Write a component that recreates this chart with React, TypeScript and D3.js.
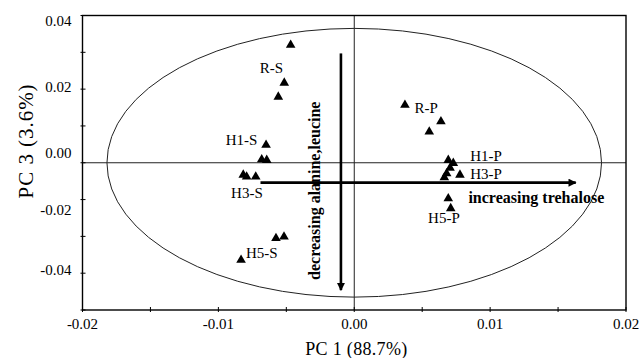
import React, { useEffect, useRef } from 'react';
import * as d3 from 'd3';

// scores (PC1, PC3)
const pc1S = [-0.00468, -0.00515, -0.00559, -0.00649, -0.00681, -0.00644, -0.00817, -0.00792, -0.00725, -0.00576, -0.00517, -0.00833];
const pc3S = [0.0320, 0.0217, 0.0179, 0.0048, 0.0009, 0.0007, -0.0033, -0.0038, -0.0038, -0.0205, -0.0201, -0.0264];
const pc1P = [0.00373, 0.00638, 0.00552, 0.00692, 0.00729, 0.00705, 0.00778, 0.00663, 0.0068, 0.00692, 0.0071];
const pc3P = [0.0157, 0.0112, 0.0084, 0.0007, -0.0001, -0.0014, -0.0033, -0.0040, -0.0029, -0.0097, -0.0124];

const groupNames = ['R-S', 'H1-S', 'H3-S', 'H5-S', 'R-P', 'H1-P', 'H3-P', 'H5-P'];
const groupPc1 = [-0.0061, -0.0083, -0.0079, -0.0068, 0.0053, 0.0097, 0.0097, 0.0066];
const groupPc3 = [0.0259, 0.0062, -0.0082, -0.0245, 0.0149, 0.0018, -0.0031, -0.0150];

const xTickValues = [-0.02, -0.015, -0.01, -0.005, 0, 0.005, 0.01, 0.015, 0.02];
const xTickLabels = ['-0.02', '-0.01', '0.00', '0.01', '0.02'];
const xTickLabelValues = [-0.02, -0.01, 0, 0.01, 0.02];
const yTickValues = [0.04, 0.03, 0.02, 0.01, 0, -0.01, -0.02, -0.03, -0.04];
const yTickLabels = ['0.04', '0.02', '0.00', '-0.02', '-0.04'];
// the printed labels sit off their ticks in the source figure
const yTickLabelValues = [0.0385, 0.0206, 0.0026, -0.0128, -0.0291];

const ellipseRadii = [0.0182, 0.0365]; // confidence ellipse, PC1 / PC3
const trehaloseArrow = [[-0.0069, -0.0054], [0.0163, -0.0054]];
const alanineArrow = [[-0.00098, 0.0297], [-0.00098, -0.0346]];

const width = 641;
const height = 358;
const margin = { top: 15.5, right: 15, bottom: 48, left: 82.5 };
const serif = '"Liberation Serif", "Times New Roman", serif';

export default function App() {
  const svgRef = useRef<SVGSVGElement>(null);

  useEffect(() => {
    if (!svgRef.current) return;
    const svg = d3.select(svgRef.current);
    svg.selectAll('*').remove();

    const x = d3.scaleLinear().domain([-0.02, 0.02]).range([margin.left, width - margin.right]);
    const y = d3.scaleLinear().domain([-0.04, 0.04]).range([height - margin.bottom, margin.top]);

    svg
      .append('defs')
      .append('marker')
      .attr('id', 'arrowhead')
      .attr('viewBox', '0 0 10 10')
      .attr('refX', 9)
      .attr('refY', 5)
      .attr('markerUnits', 'userSpaceOnUse')
      .attr('markerWidth', 10)
      .attr('markerHeight', 8)
      .attr('orient', 'auto')
      .append('path')
      .attr('d', 'M0,0 L10,5 L0,10 z')
      .attr('fill', '#000');

    // zero lines
    svg.append('line')
      .attr('x1', x(-0.02)).attr('x2', x(0.02))
      .attr('y1', y(0)).attr('y2', y(0))
      .attr('stroke', '#222').attr('stroke-width', 1);
    svg.append('line')
      .attr('x1', x(0)).attr('x2', x(0))
      .attr('y1', y(0.04)).attr('y2', y(-0.04))
      .attr('stroke', '#222').attr('stroke-width', 1);

    // ellipse
    svg.append('ellipse')
      .attr('cx', x(0)).attr('cy', y(0))
      .attr('rx', x(ellipseRadii[0]) - x(0))
      .attr('ry', y(0) - y(ellipseRadii[1]))
      .attr('fill', 'none')
      .attr('stroke', '#222')
      .attr('stroke-width', 1);

    // frame
    svg.append('rect')
      .attr('x', x(-0.02)).attr('y', y(0.04))
      .attr('width', x(0.02) - x(-0.02))
      .attr('height', y(-0.04) - y(0.04))
      .attr('fill', 'none')
      .attr('stroke', '#000')
      .attr('stroke-width', 1.4);

    // ticks
    const tickG = svg.append('g').attr('stroke', '#000').attr('stroke-width', 1);
    tickG.selectAll('.xt')
      .data(xTickValues)
      .enter()
      .append('line')
      .attr('x1', (d) => x(d)).attr('x2', (d) => x(d))
      .attr('y1', y(-0.04) - 3).attr('y2', y(-0.04) + 2);
    tickG.selectAll('.yt')
      .data(yTickValues)
      .enter()
      .append('line')
      .attr('x1', x(-0.02) - 2).attr('x2', x(-0.02) + 3)
      .attr('y1', (d) => y(d)).attr('y2', (d) => y(d));

    svg.selectAll('.xl')
      .data(xTickLabelValues)
      .enter()
      .append('text')
      .attr('x', (d) => x(d))
      .attr('y', y(-0.04) + 14)
      .attr('dy', '0.35em')
      .attr('text-anchor', 'middle')
      .style('font-family', serif)
      .style('font-size', '15px')
      .text((d, i) => xTickLabels[i]);

    svg.selectAll('.yl')
      .data(yTickLabelValues)
      .enter()
      .append('text')
      .attr('x', x(-0.02) - 11)
      .attr('y', (d) => y(d))
      .attr('dy', '0.35em')
      .attr('text-anchor', 'end')
      .style('font-family', serif)
      .style('font-size', '15px')
      .text((d, i) => yTickLabels[i]);

    // axis titles
    svg.append('text')
      .attr('x', x(0) + 2)
      .attr('y', height - 9)
      .attr('dy', '0.35em')
      .attr('text-anchor', 'middle')
      .attr('textLength', 102)
      .style('font-family', serif)
      .style('font-size', '18px')
      .text('PC 1 (88.7%)');

    svg.append('text')
      .attr('transform', `translate(26,${y(0.0058)}) rotate(-90)`)
      .attr('dy', '0.35em')
      .attr('text-anchor', 'middle')
      .attr('textLength', 114)
      .style('font-family', serif)
      .style('font-size', '21px')
      .text('PC 3 (3.6%)');

    // arrows
    const line = d3.line<number[]>().x((d) => x(d[0])).y((d) => y(d[1]));
    [trehaloseArrow, alanineArrow].forEach((a) => {
      svg.append('path')
        .attr('d', line(a))
        .attr('stroke', '#000')
        .attr('stroke-width', 2.6)
        .attr('fill', 'none')
        .attr('marker-end', 'url(#arrowhead)');
    });

    svg.append('text')
      .attr('x', x(0.0134))
      .attr('y', y(-0.0093))
      .attr('dy', '0.35em')
      .attr('text-anchor', 'middle')
      .style('font-family', serif)
      .style('font-size', '16px')
      .style('font-weight', 'bold')
      .text('increasing trehalose');

    svg.append('text')
      .attr('transform', `translate(${x(-0.0029)},${y(-0.0076)}) rotate(-90)`)
      .attr('dy', '0.35em')
      .attr('text-anchor', 'middle')
      .style('font-family', serif)
      .style('font-size', '16px')
      .style('font-weight', 'bold')
      .text('decreasing alanine,leucine');

    // points
    const tri = d3.symbol().type(d3.symbolTriangle).size(40);
    const pts = [
      ...pc1S.map((v, i) => [v, pc3S[i]]),
      ...pc1P.map((v, i) => [v, pc3P[i]]),
    ];
    svg.selectAll('.pt')
      .data(pts)
      .enter()
      .append('path')
      .attr('d', tri())
      .attr('transform', (d) => `translate(${x(d[0])},${y(d[1])})`)
      .attr('fill', '#000');

    svg.selectAll('.gl')
      .data(groupNames)
      .enter()
      .append('text')
      .attr('x', (d, i) => x(groupPc1[i]))
      .attr('y', (d, i) => y(groupPc3[i]))
      .attr('dy', '0.35em')
      .attr('text-anchor', 'middle')
      .style('font-family', serif)
      .style('font-size', '15px')
      .text((d) => d);
  }, []);

  return (
    <svg
      ref={svgRef}
      width={width}
      height={height}
      style={{ position: 'absolute', left: 0, top: 0, background: '#fff' }}
    />
  );
}
